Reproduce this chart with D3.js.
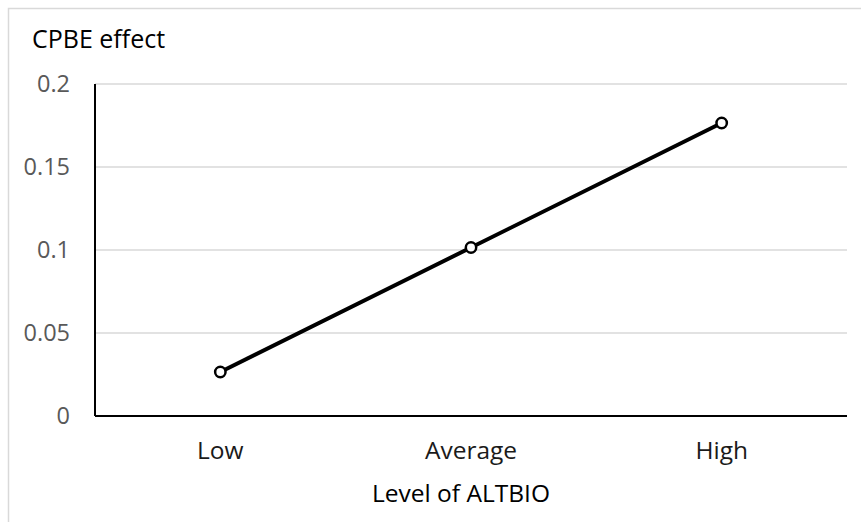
<!DOCTYPE html>
<html>
<head>
<meta charset="utf-8">
<script src="https://cdn.jsdelivr.net/npm/d3@7"></script>
<style>
  body { margin: 0; background: #fff; }
  text { font-family: "Open Sans", "Noto Sans", sans-serif; }
</style>
</head>
<body>
<div id="chart"></div>
<script>
// data
const levels = ["Low", "Average", "High"];
const cpbeEffect = [0.0265, 0.1015, 0.1765];
const yTicks = [0, 0.05, 0.1, 0.15, 0.2];
const yTitle = "CPBE effect";
const xTitle = "Level of ALTBIO";

const W = 861, H = 522;
const margin = {top: 84, right: 14, bottom: 106, left: 95};
const width = W - margin.left - margin.right;
const height = H - margin.top - margin.bottom;

const svg = d3.select("#chart").append("svg")
    .attr("width", W)
    .attr("height", H);

// chart area border (only top/left visible in frame)
svg.append("rect")
    .attr("x", 8.5).attr("y", 8.5)
    .attr("width", W + 20).attr("height", H + 20)
    .attr("fill", "none")
    .attr("stroke", "#d9d9d9")
    .attr("stroke-width", 1.5);

const g = svg.append("g")
    .attr("transform", "translate(" + margin.left + "," + margin.top + ")");

const x = d3.scaleBand()
    .domain(levels)
    .range([0, width]);

const y = d3.scaleLinear()
    .domain([0, 0.2])
    .range([height, 0]);

// gridlines
g.append("g")
    .selectAll("line")
    .data(yTicks.filter(d => d > 0))
    .join("line")
    .attr("x1", 0).attr("x2", width)
    .attr("y1", d => y(d)).attr("y2", d => y(d))
    .attr("stroke", "#d9d9d9")
    .attr("stroke-width", 1.5);

// y axis
const yAxis = d3.axisLeft(y)
    .tickValues(yTicks)
    .tickSize(0)
    .tickPadding(25)
    .tickFormat(d => d === 0 ? "0" : String(+d.toFixed(2)));

g.append("g")
    .call(yAxis)
    .call(s => s.select(".domain").remove())
    .selectAll("text")
    .attr("fill", "#595959")
    .style("font-size", "23.5px");

g.append("line")
    .attr("x1", 0).attr("x2", 0)
    .attr("y1", 0).attr("y2", height)
    .attr("stroke", "#000")
    .attr("stroke-width", 2);

// x axis
const xAxis = d3.axisBottom(x)
    .tickSize(0)
    .tickPadding(26);

g.append("g")
    .attr("transform", "translate(0," + height + ")")
    .call(xAxis)
    .call(s => s.select(".domain").remove())
    .selectAll("text")
    .attr("fill", "#1a1a1a")
    .style("font-size", "24.5px");

g.append("line")
    .attr("x1", 0).attr("x2", width)
    .attr("y1", height).attr("y2", height)
    .attr("stroke", "#000")
    .attr("stroke-width", 2);

// titles
svg.append("text")
    .attr("x", 32)
    .attr("y", 48)
    .attr("fill", "#000")
    .style("font-size", "25px")
    .text(yTitle);

svg.append("text")
    .attr("x", margin.left + width / 2 - 10)
    .attr("y", 502)
    .attr("text-anchor", "middle")
    .attr("fill", "#000")
    .style("font-size", "24.5px")
    .text(xTitle);

// line + markers
const pts = levels.map((d, i) => ({level: d, value: cpbeEffect[i]}));

const line = d3.line()
    .x(d => x(d.level) + x.bandwidth() / 2)
    .y(d => y(d.value));

g.append("path")
    .datum(pts)
    .attr("d", line)
    .attr("fill", "none")
    .attr("stroke", "#000")
    .attr("stroke-width", 4);

g.selectAll(".dot")
    .data(pts)
    .join("circle")
    .attr("class", "dot")
    .attr("cx", d => x(d.level) + x.bandwidth() / 2)
    .attr("cy", d => y(d.value))
    .attr("r", 5.2)
    .attr("fill", "#fff")
    .attr("stroke", "#000")
    .attr("stroke-width", 2.5);
</script>
</body>
</html>
